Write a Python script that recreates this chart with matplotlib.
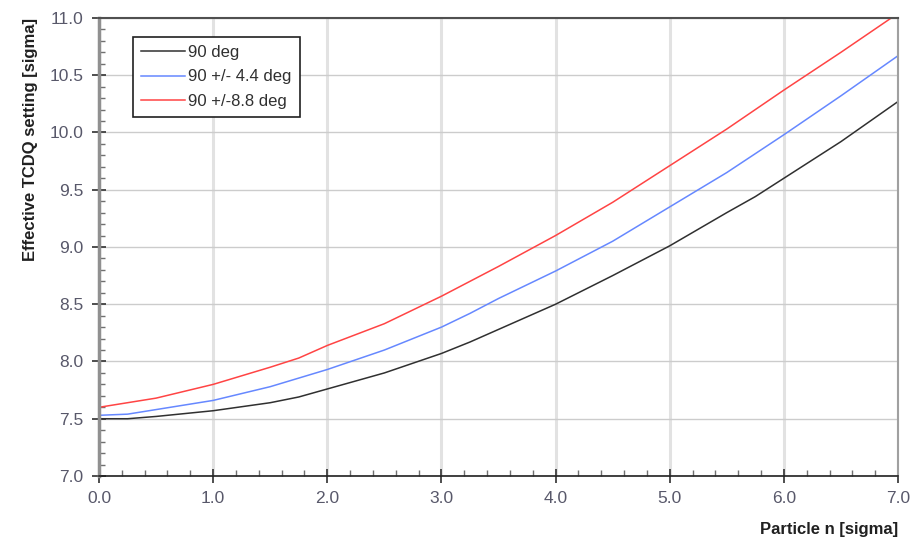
import matplotlib
matplotlib.use('Agg')
import matplotlib.pyplot as plt
from matplotlib.ticker import MultipleLocator, FormatStrFormatter

plt.rcParams['font.family'] = ['Liberation Sans', 'DejaVu Sans']

# particle amplitude [sigma]
x_black = [0.0, 0.25, 0.5, 1.0, 1.5, 1.75, 2.0, 2.5, 3.0, 3.25, 3.5, 4.0, 4.5, 5.0, 5.5, 5.75, 6.0, 6.5, 7.0]
y_black = [7.50, 7.50, 7.52, 7.57, 7.64, 7.69, 7.76, 7.90, 8.07, 8.17, 8.28, 8.50, 8.75, 9.01, 9.30, 9.44, 9.60, 9.92, 10.27]

x_blue = [0.0, 0.25, 0.5, 1.0, 1.5, 2.0, 2.5, 3.0, 3.25, 3.5, 4.0, 4.5, 5.0, 5.5, 6.0, 6.5, 7.0]
y_blue = [7.53, 7.54, 7.58, 7.66, 7.78, 7.93, 8.10, 8.30, 8.42, 8.55, 8.79, 9.05, 9.35, 9.65, 9.98, 10.32, 10.67]

x_red = [0.0, 0.5, 1.0, 1.5, 1.75, 2.0, 2.5, 3.0, 3.5, 4.0, 4.5, 5.0, 5.5, 6.0, 6.5, 7.0]
y_red = [7.60, 7.68, 7.80, 7.95, 8.03, 8.14, 8.33, 8.57, 8.83, 9.10, 9.39, 9.71, 10.03, 10.37, 10.70, 11.04]

labels = ['90 deg', '90 +/- 4.4 deg', '90 +/-8.8 deg']

fig = plt.figure(figsize=(9.1, 5.43), dpi=100)
ax = fig.add_axes([0.1088, 0.1234, 0.878, 0.8435])

ax.plot(x_black, y_black, color='#303030', lw=1.1, label=labels[0])
ax.plot(x_blue, y_blue, color='#6688ff', lw=1.1, label=labels[1])
ax.plot(x_red, y_red, color='#ff4444', lw=1.1, label=labels[2])

ax.set_xlim(0, 7)
ax.set_ylim(7, 11)
ax.xaxis.set_major_locator(MultipleLocator(1.0))
ax.xaxis.set_minor_locator(MultipleLocator(0.2))
ax.yaxis.set_major_locator(MultipleLocator(0.5))
ax.yaxis.set_minor_locator(MultipleLocator(0.1))
ax.xaxis.set_major_formatter(FormatStrFormatter('%.1f'))
ax.yaxis.set_major_formatter(FormatStrFormatter('%.1f'))

ax.grid(axis='x', which='major', color='#e2e2e2', lw=2.2)
ax.grid(axis='y', which='major', color='#cccccc', lw=1.0)
ax.set_axisbelow(True)

ax.tick_params(which='major', direction='inout', length=10, width=1.3,
               color='#404040', labelsize=12.5, labelcolor='#58586a', pad=6)
ax.tick_params(which='minor', direction='in', length=4, width=1.0, color='#707070')

ax.spines['left'].set_color('#909090')
ax.spines['left'].set_linewidth(2.5)
ax.spines['bottom'].set_color('#202020')
ax.spines['bottom'].set_linewidth(1.2)
ax.spines['top'].set_color('#505050')
ax.spines['top'].set_linewidth(1.5)
ax.spines['right'].set_color('#a0a0a0')
ax.spines['right'].set_linewidth(1.5)

ax.set_xlabel('Particle n [sigma]', fontsize=12, fontweight='bold', color='#202020')
ax.xaxis.set_label_coords(1.0, -0.1)
ax.xaxis.label.set_horizontalalignment('right')
ax.set_ylabel('Effective TCDQ setting [sigma]', fontsize=12, fontweight='bold', color='#202020')
ax.yaxis.set_label_coords(-0.095, 1.0)
ax.yaxis.label.set_verticalalignment('top')
ax.yaxis.label.set_horizontalalignment('right')

leg = ax.legend(loc='upper left', bbox_to_anchor=(0.032, 0.977), fontsize=12,
                fancybox=False, framealpha=1, edgecolor='#202020',
                handlelength=2.6, handletextpad=0.2, labelspacing=0.55,
                borderpad=0.5)
leg.get_frame().set_linewidth(1.2)
for t in leg.get_texts():
    t.set_color('#303030')

fig.savefig('out.png', dpi=100)
